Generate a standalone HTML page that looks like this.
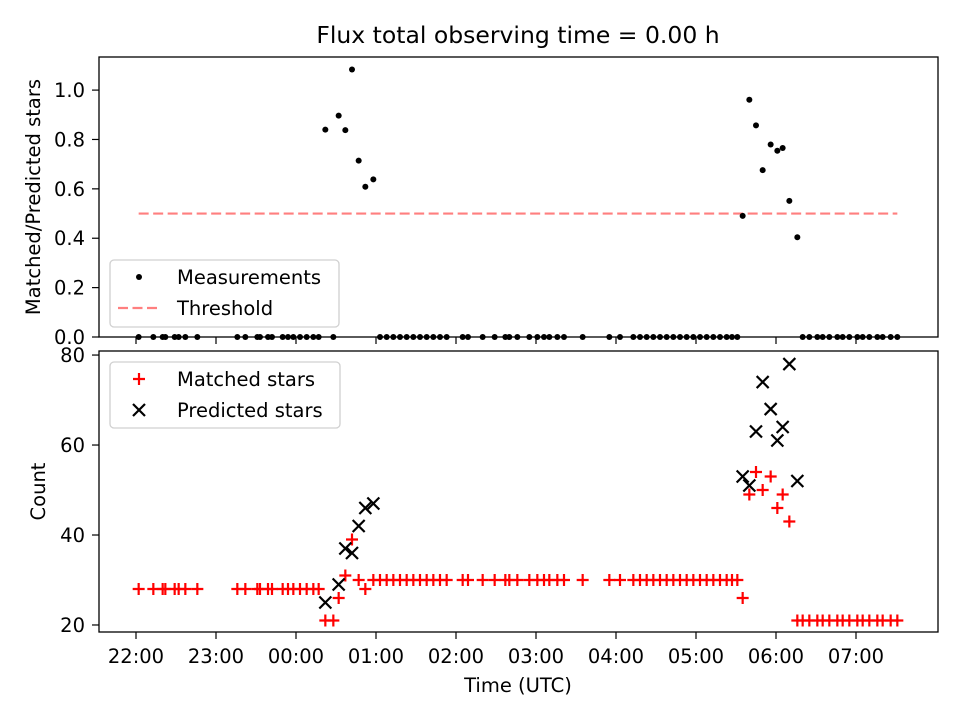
<!DOCTYPE html>
<html><head><meta charset="utf-8"><style>
body{margin:0;background:#fff}
svg{font-family:"DejaVu Sans","Liberation Sans",sans-serif}
</style></head><body>
<svg id="chart" width="960" height="720" viewBox="0 0 960 720" xmlns="http://www.w3.org/2000/svg">
<rect width="960" height="720" fill="#fff"/>
<text x="518" y="43" font-size="23.5" text-anchor="middle" fill="#000">Flux total observing time = 0.00 h</text>
<g id="top"></g><g id="bot"></g>
</svg>
<script>
// minutes after 22:00 UTC
const times = [2,13,20,22,29,32,37,46,76,82,91,93,99,102,110,114,118,123,128,133,137,142,148,152,157,162,167,172,178,183,188,193,198,203,208,213,218,223,228,233,245,249,260,269,277,280,286,295,301,306,310,316,321,335,355,363,373,378,383,388,393,398,403,408,413,418,423,428,433,438,443,447,451,455,460,465,470,476,481,485,490,496,500,505,511,515,520,526,530,535,541,545,550,556,560,566,571];
const matched = [28,28,28,28,28,28,28,28,28,28,28,28,28,28,28,28,28,28,28,28,28,21,21,26,31,39,30,28,30,30,30,30,30,30,30,30,30,30,30,30,30,30,30,30,30,30,30,30,30,30,30,30,30,30,30,30,30,30,30,30,30,30,30,30,30,30,30,30,30,30,30,30,30,26,49,54,50,53,46,49,43,21,21,21,21,21,21,21,21,21,21,21,21,21,21,21,21];
const predicted = [0,0,0,0,0,0,0,0,0,0,0,0,0,0,0,0,0,0,0,0,0,25,0,29,37,36,42,46,47,0,0,0,0,0,0,0,0,0,0,0,0,0,0,0,0,0,0,0,0,0,0,0,0,0,0,0,0,0,0,0,0,0,0,0,0,0,0,0,0,0,0,0,0,53,51,63,74,68,61,64,78,52,0,0,0,0,0,0,0,0,0,0,0,0,0,0,0];
const xTickMinutes = [0,60,120,180,240,300,360,420,480,540];
const xTickLabels = ["22:00","23:00","00:00","01:00","02:00","03:00","04:00","05:00","06:00","07:00"];
const topYTicks = [0,0.2,0.4,0.6,0.8,1.0];
const botYTicks = [20,40,60,80];
const threshold = 0.5;
const thresholdRange = [2,571];

const NS="http://www.w3.org/2000/svg";
const L=99,R=938;
const FS=19.5;
const X0=-27.75,X1=601.5;
const xs=m=>L+(m-X0)/(X1-X0)*(R-L);
const T={top:57,bot:337,y0:0,y1:1.134};
const B={top:351,bot:632,y0:18.44,y1:80.9};
const ys=(P,v)=>P.bot-(v-P.y0)/(P.y1-P.y0)*(P.bot-P.top);
function el(t,a,p){const e=document.createElementNS(NS,t);for(const k in a)e.setAttribute(k,a[k]);p.appendChild(e);return e;}
const gt=document.getElementById('top'),gb=document.getElementById('bot');

function axes(P,g,ticks,fmt,label,showX,nameP,labX){
  for(let i=0;i<xTickMinutes.length;i++){
    const x=xs(xTickMinutes[i]);
    const t=el('line',{x1:x,x2:x,y1:P.bot,y2:P.bot+7,stroke:'#000','stroke-width':1.2},g);
    
    
    if(showX){const tx=el('text',{x:x,y:P.bot+31,'font-size':FS,'text-anchor':'middle'},g);tx.textContent=xTickLabels[i];
      
      }
  }
  ticks.forEach(v=>{const y=ys(P,v);
    const t=el('line',{x1:L-7,x2:L,y1:y,y2:y,stroke:'#000','stroke-width':1.2},g);
    
    
    const tx=el('text',{x:L-14,y:y+7,'font-size':FS,'text-anchor':'end'},g);tx.textContent=fmt(v);
    
    });
  const yl=el('text',{x:0,y:0,'font-size':FS,'text-anchor':'middle',transform:`translate(${labX},${(P.top+P.bot)/2}) rotate(-90)`},g);
  yl.textContent=label;
  
  
}
function frame(P,g,n){const r=el('rect',{x:L,y:P.top,width:R-L,height:P.bot-P.top,fill:'none',stroke:'#000','stroke-width':1.3},g);
  
  }

// top panel
axes(T,gt,topYTicks,v=>v.toFixed(1),'Matched/Predicted stars',false,'top',40);
const th=el('line',{x1:xs(thresholdRange[0]),x2:xs(thresholdRange[1]),y1:ys(T,threshold),y2:ys(T,threshold),stroke:'#ff7f7f','stroke-width':2.2,'stroke-dasharray':'10,4.5'},gt);


times.forEach((m,i)=>{const r=predicted[i]>0?matched[i]/predicted[i]:0;
  const c=el('circle',{cx:xs(m),cy:ys(T,r),r:3,fill:'#000'},gt);
  
  });
frame(T,gt,'top-plot-frame');

// bottom panel
axes(B,gb,botYTicks,v=>String(v),'Count',true,'bottom',45);
function plus(x,y,g){return el('path',{d:`M${x-6},${y}H${x+6}M${x},${y-6}V${y+6}`,stroke:'#f00','stroke-width':2.2,fill:'none'},g);}
function cross(x,y,g){return el('path',{d:`M${x-6},${y-6}L${x+6},${y+6}M${x-6},${y+6}L${x+6},${y-6}`,stroke:'#000','stroke-width':2.2,fill:'none'},g);}
times.forEach((m,i)=>{const p=plus(xs(m),ys(B,matched[i]),gb);
  
  });
times.forEach((m,i)=>{if(predicted[i]>0){const p=cross(xs(m),ys(B,predicted[i]),gb);
  
  }});
frame(B,gb,'bottom-plot-frame');
const xl=el('text',{x:518,y:692,'font-size':FS,'text-anchor':'middle'},gb);xl.textContent='Time (UTC)';



// legends
function legend(g,x,y,w,h,items,n){
  const lg=el('g',{},g);
  
  
  el('rect',{x:x,y:y,width:w,height:h,rx:4,fill:'#fff','fill-opacity':0.8,stroke:'#d0d0d0','stroke-width':1.3},lg);
  items.forEach((it,i)=>{const cy=y+17+i*31;
    const e=el('g',{},lg);
    
    
    it.draw(x+29,cy,e);
    const t=el('text',{x:x+67,y:cy+7,'font-size':FS},e);t.textContent=it.label;});
}
legend(gt,110,260,229,67,[
 {label:'Measurements',draw:(x,y,g)=>el('circle',{cx:x,cy:y,r:3,fill:'#000'},g)},
 {label:'Threshold',draw:(x,y,g)=>el('line',{x1:x-21,x2:x+21,y1:y,y2:y,stroke:'#ff7f7f','stroke-width':2.2,'stroke-dasharray':'10,4.5'},g)}
],'top-legend');
legend(gb,110,362,230,66,[
 {label:'Matched stars',draw:(x,y,g)=>plus(x,y,g)},
 {label:'Predicted stars',draw:(x,y,g)=>cross(x,y,g)}
],'bottom-legend');
</script>
</body></html>
